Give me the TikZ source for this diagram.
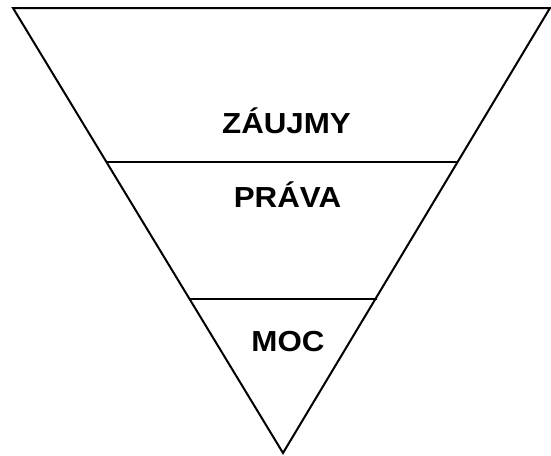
\documentclass[tikz,border=0pt]{standalone}
\usepackage{fontspec}
\setmainfont{Liberation Sans}
\begin{document}
\begin{tikzpicture}[x=1pt,y=-1pt,
  edge/.style={line width=2pt, line join=miter},
  lbl/.style={anchor=base, inner sep=0pt, font=\bfseries\fontsize{29}{29}\selectfont}]
\useasboundingbox (0,0) rectangle (551,455);
\coordinate (tl) at (13,8);
\coordinate (tr) at (550,8);
\coordinate (ap) at (283,453);
\coordinate (l1a) at (106.4,162);
\coordinate (l1b) at (457.6,162);
\coordinate (l2a) at (189,299);
\coordinate (l2b) at (377,299);
\draw[edge] (tl) -- (tr) -- (ap) -- cycle;
\draw[edge] (l1a) -- (l1b);
\draw[edge] (l2a) -- (l2b);
\node[lbl] (z) at (286.5,133) {\scalebox{1.08}[1]{ZÁUJMY}};
\node[lbl] (p) at (287.5,207) {\scalebox{1.08}[1]{PRÁVA}};
\node[lbl] (m) at (288,351) {\scalebox{1.08}[1]{MOC}};
\end{tikzpicture}
\end{document}
